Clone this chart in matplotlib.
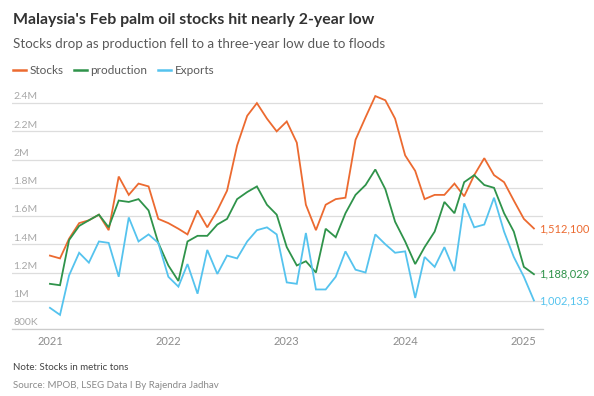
import matplotlib
matplotlib.use("Agg")
import matplotlib.pyplot as plt
import matplotlib.transforms as mtransforms
import pandas as pd

# Monthly data, Jan 2021 - Feb 2025 (metric tons, in millions)
months = pd.date_range("2021-01-01", periods=50, freq="MS")

stocks = [1.32, 1.30, 1.44, 1.55, 1.57, 1.61, 1.50, 1.88, 1.75, 1.83,
          1.81, 1.58, 1.55, 1.51, 1.47, 1.64, 1.52, 1.64, 1.78, 2.10,
          2.31, 2.40, 2.29, 2.20, 2.27, 2.12, 1.68, 1.50, 1.68, 1.72,
          1.73, 2.14, 2.30, 2.45, 2.42, 2.29, 2.03, 1.92, 1.72, 1.75,
          1.75, 1.83, 1.74, 1.89, 2.01, 1.89, 1.84, 1.71, 1.58, 1.5121]

production = [1.12, 1.11, 1.43, 1.53, 1.57, 1.61, 1.52, 1.71, 1.70, 1.72,
              1.64, 1.41, 1.25, 1.14, 1.42, 1.46, 1.46, 1.54, 1.58, 1.72,
              1.77, 1.81, 1.68, 1.61, 1.38, 1.25, 1.28, 1.20, 1.51, 1.45,
              1.62, 1.75, 1.82, 1.93, 1.79, 1.56, 1.42, 1.26, 1.38, 1.49,
              1.70, 1.62, 1.84, 1.89, 1.82, 1.80, 1.62, 1.49, 1.24, 1.188029]

exports = [0.95, 0.90, 1.18, 1.34, 1.27, 1.42, 1.41, 1.17, 1.59, 1.42,
           1.47, 1.41, 1.17, 1.10, 1.26, 1.05, 1.36, 1.19, 1.32, 1.30,
           1.42, 1.50, 1.52, 1.47, 1.13, 1.12, 1.48, 1.08, 1.08, 1.17,
           1.35, 1.22, 1.20, 1.47, 1.40, 1.34, 1.35, 1.02, 1.31, 1.24,
           1.38, 1.21, 1.69, 1.52, 1.54, 1.73, 1.49, 1.31, 1.17, 1.002135]

series_names = ["Stocks", "production", "Exports"]
series_colors = ["#ec6a30", "#2f934a", "#55c3ee"]
end_labels = ["1,512,100", "1,188,029", "1,002,135"]

y_ticks = [0.8, 1.0, 1.2, 1.4, 1.6, 1.8, 2.0, 2.2, 2.4]
y_tick_labels = ["800K", "1M", "1.2M", "1.4M", "1.6M", "1.8M", "2M", "2.2M", "2.4M"]
year_ticks = pd.to_datetime(["2021-01-01", "2022-01-01", "2023-01-01", "2024-01-01", "2025-01-01"])
year_labels = ["2021", "2022", "2023", "2024", "2025"]

plt.rcParams["font.family"] = ["Lato", "DejaVu Sans"]

fig = plt.figure(figsize=(5.94, 3.96), dpi=100)
ax = fig.add_axes([12 / 594, 1 - 329 / 396, 531 / 594, 240 / 396])

for vals, name, color in zip([stocks, production, exports], series_names, series_colors):
    ax.plot(months, vals, color=color, linewidth=1.3, label=name, solid_joinstyle="miter")

# end-of-series labels
for vals, lab, color in zip([stocks, production, exports], end_labels, series_colors):
    ax.annotate(lab, xy=(months[-1], vals[-1]), xytext=(4, 0), textcoords="offset points",
                color=color, fontsize=8, va="center", ha="left", annotation_clip=False)

ax.set_xlim(pd.Timestamp("2020-09-06"), pd.Timestamp("2025-03-01"))
ax.set_ylim(0.8, 2.5)

ax.set_yticks(y_ticks)
ax.set_yticklabels([])
ax.tick_params(axis="y", length=0)
ax.grid(axis="y", color="#dddddd", linewidth=0.9)
ax.set_axisbelow(True)

trans = mtransforms.blended_transform_factory(ax.transAxes, ax.transData)
for v, lab in zip(y_ticks, y_tick_labels):
    ax.text(0.002, v + 0.012, lab, transform=trans, fontsize=7.5, color="#a8a8a8",
            ha="left", va="bottom")

ax.set_xticks(year_ticks)
ax.set_xticklabels(year_labels, fontsize=8, color="#8c8c8c")
ax.tick_params(axis="x", length=0, pad=5)

for s in ["top", "right", "left"]:
    ax.spines[s].set_visible(False)
ax.spines["bottom"].set_color("#cccccc")
ax.spines["bottom"].set_linewidth(0.9)

# titles
fig.text(13 / 594, 1 - 20 / 396, "Malaysia's Feb palm oil stocks hit nearly 2-year low",
         fontsize=11.4, fontweight="bold", color="#333333", va="center", ha="left")
fig.text(13 / 594, 1 - 44 / 396, "Stocks drop as production fell to a three-year low due to floods",
         fontsize=9.6, color="#5a5a5a", va="center", ha="left")

# legend
leg = fig.legend(loc="center left", bbox_to_anchor=(2 / 594, 1 - 71 / 396), ncol=3, frameon=False,
                 fontsize=8.5, handlelength=1.1, handletextpad=0.3, columnspacing=0.9)
for t in leg.get_texts():
    t.set_color("#5a5a5a")
for h in leg.legend_handles:
    h.set_linewidth(1.8)

fig.text(13 / 594, 1 - 367 / 396, "Note: Stocks in metric tons", fontsize=7, color="#444444",
         va="center", ha="left")
fig.text(13 / 594, 1 - 385 / 396, "Source: MPOB, LSEG Data I By Rajendra Jadhav", fontsize=7,
         color="#8a8a8a", va="center", ha="left")

fig.savefig("out.png", dpi=100)
